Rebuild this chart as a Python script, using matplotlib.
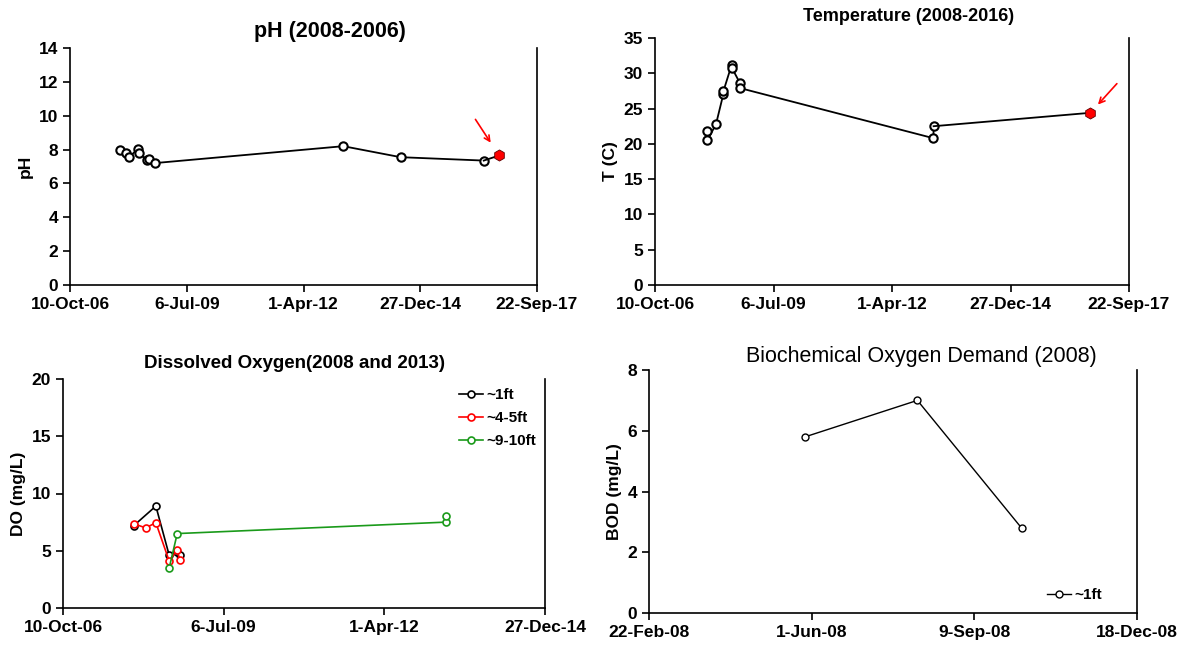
import matplotlib
matplotlib.use('Agg')
import matplotlib.pyplot as plt
import matplotlib.dates as mdates
import pandas as pd

plt.rcParams['font.family'] = ['Liberation Sans', 'DejaVu Sans']
plt.rcParams['font.weight'] = 'bold'
plt.rcParams['axes.labelweight'] = 'bold'

# pH
ph_dates = pd.to_datetime(['2007-12-09', '2008-02-05', '2008-02-28', '2008-05-14',
                           '2008-05-20', '2008-07-27', '2008-08-20', '2008-10-03',
                           '2013-03-08', '2014-07-12', '2016-06-23'])
ph_vals = [8.0, 7.8, 7.55, 8.05, 7.8, 7.4, 7.45, 7.2, 8.2, 7.55, 7.35]
ph_last_date = pd.Timestamp('2016-11-01')
ph_last = 7.65

# temperature
temp_dates = pd.to_datetime(['2007-12-25', '2007-12-26', '2008-03-08', '2008-05-08',
                             '2008-05-10', '2008-07-18', '2008-07-19', '2008-09-26',
                             '2008-09-27', '2013-03-17', '2013-03-18'])
temp_vals = [21.8, 20.5, 22.8, 27.0, 27.5, 31.2, 30.8, 28.6, 27.9, 20.8, 22.5]
temp_last_date = pd.Timestamp('2016-11-01')
temp_last = 24.4

# dissolved oxygen
do_1ft_dates = pd.to_datetime(['2007-12-25', '2008-05-10', '2008-08-01', '2008-09-20', '2008-10-05'])
do_1ft = [7.2, 8.9, 4.6, 4.9, 4.6]
do_45ft_dates = pd.to_datetime(['2007-12-25', '2008-03-08', '2008-05-10', '2008-08-01',
                                '2008-09-20', '2008-10-05'])
do_45ft = [7.35, 7.0, 7.45, 4.1, 5.1, 4.2]
do_910ft_dates = pd.to_datetime(['2008-08-01', '2008-09-20', '2013-04-20', '2013-04-20'])
do_910ft = [3.5, 6.5, 7.5, 8.0]

# BOD
bod_dates = pd.to_datetime(['2008-05-28', '2008-08-05', '2008-10-08'])
bod_vals = [5.8, 7.0, 2.8]


def date_fmt(x, pos):
    d = mdates.num2date(x)
    return f"{d.day}-{d:%b-%y}"


def style(ax, start, n, step, ylim, yticks, ylabel):
    ticks = pd.date_range(start, periods=n, freq=f'{step}D')
    ax.set_xlim(ticks[0], ticks[-1])
    ax.set_xticks(ticks)
    ax.xaxis.set_major_formatter(plt.FuncFormatter(date_fmt))
    ax.set_ylim(*ylim)
    ax.set_yticks(yticks)
    ax.set_ylabel(ylabel, fontsize=12.5)
    ax.spines['top'].set_visible(False)
    for s in ['left', 'bottom', 'right']:
        ax.spines[s].set_linewidth(1.2)
    ax.tick_params(labelsize=12.5, width=1.2, length=5)


fig = plt.figure(figsize=(11.87, 6.48), dpi=100)

ax1 = fig.add_axes([70 / 1187, 1 - 285 / 648, 467 / 1187, 237 / 648])
ax1.plot(ph_dates, ph_vals, '-o', color='black', lw=1.3, ms=6,
         mfc='white', mec='black', mew=1.5)
ax1.plot([ph_dates[-1], ph_last_date], [ph_vals[-1], ph_last], '-', color='black', lw=1.3)
ax1.plot(ph_last_date, ph_last, 'h', color='red', ms=8, mec='#600000', mew=0.6)
ax1.annotate('', xy=(ph_last_date, ph_last), xytext=(-17, 26), textcoords='offset points',
             arrowprops=dict(arrowstyle='->', color='red', lw=1.2, shrinkA=0, shrinkB=11))
style(ax1, '2006-10-10', 5, 1000, (0, 14), range(0, 15, 2), 'pH')
ax1.set_title('pH (2008-2006)', fontsize=15.5, fontweight='bold', pad=8, x=0.557)

ax2 = fig.add_axes([655 / 1187, 1 - 285 / 648, 474 / 1187, 247 / 648])
ax2.plot(temp_dates, temp_vals, '-o', color='black', lw=1.3, ms=6,
         mfc='white', mec='black', mew=1.5)
ax2.plot([temp_dates[-1], temp_last_date], [temp_vals[-1], temp_last], '-', color='black', lw=1.3)
ax2.plot(temp_last_date, temp_last, 'h', color='red', ms=8, mec='#600000', mew=0.6)
ax2.annotate('', xy=(temp_last_date, temp_last), xytext=(19, 21), textcoords='offset points',
             arrowprops=dict(arrowstyle='->', color='red', lw=1.2, shrinkA=0, shrinkB=8))
style(ax2, '2006-10-10', 5, 1000, (0, 35), range(0, 36, 5), 'T (C)')
ax2.set_title('Temperature (2008-2016)', fontsize=13, fontweight='bold', pad=12, x=0.534)

ax3 = fig.add_axes([63 / 1187, 1 - 608 / 648, 482 / 1187, 229 / 648])
ax3.plot(do_1ft_dates, do_1ft, '-o', color='black', lw=1.2, ms=5,
         mfc='white', mew=1.2, label='~1ft')
ax3.plot(do_45ft_dates, do_45ft, '-o', color='red', lw=1.2, ms=5,
         mfc='white', mew=1.2, label='~4-5ft')
ax3.plot(do_910ft_dates, do_910ft, '-o', color='#1a9a1a', lw=1.2, ms=5,
         mfc='white', mew=1.2, label='~9-10ft')
style(ax3, '2006-10-10', 4, 1000, (0, 20), range(0, 21, 5), 'DO (mg/L)')
ax3.set_title('Dissolved Oxygen(2008 and 2013)', fontsize=13.5, fontweight='bold', pad=8, x=0.481)
ax3.legend(loc='upper right', frameon=False, fontsize=11, handlelength=1.6,
           handletextpad=0.2, labelspacing=0.6, borderaxespad=0.2)

ax4 = fig.add_axes([649 / 1187, 1 - 613 / 648, 488 / 1187, 243 / 648])
ax4.plot(bod_dates, bod_vals, '-o', color='black', lw=1.0, ms=5,
         mfc='white', mew=1.0, label='~1ft')
style(ax4, '2008-02-22', 4, 100, (0, 8), range(0, 9, 2), 'BOD (mg/L)')
ax4.set_title('Biochemical Oxygen Demand (2008)', fontsize=15.5, fontweight='normal', pad=6, x=0.559)
ax4.legend(loc='lower right', bbox_to_anchor=(0.95, 0.0), frameon=False, fontsize=11,
           handlelength=1.6, handletextpad=0.2, borderaxespad=0.3)

fig.savefig('out.png', dpi=100)
